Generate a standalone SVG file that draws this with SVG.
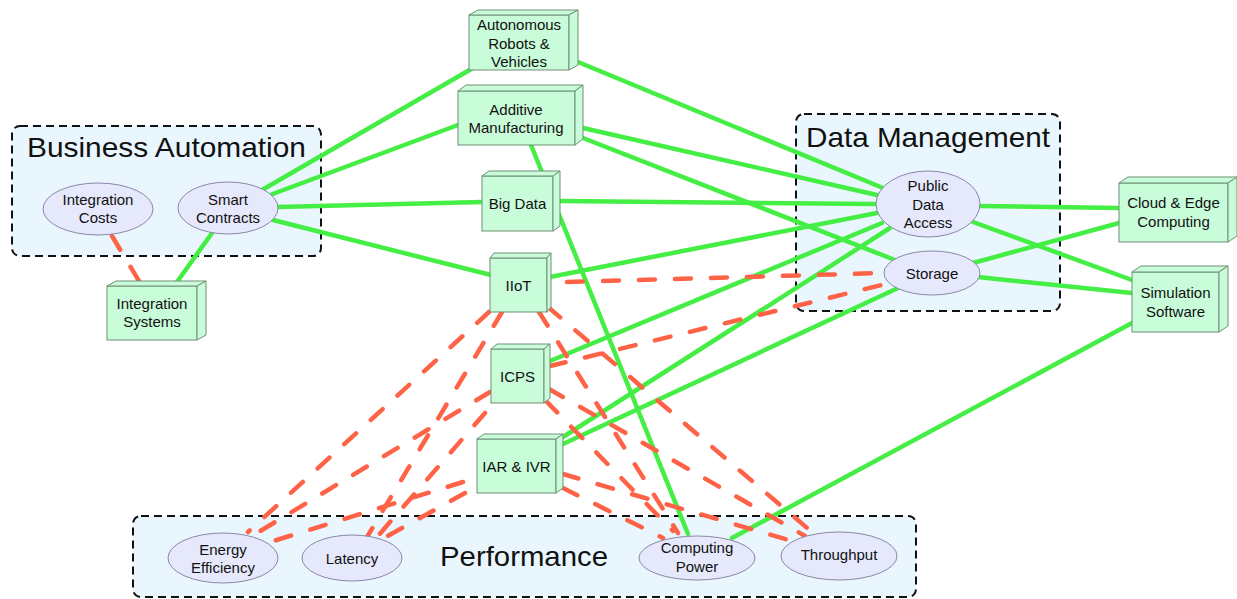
<svg xmlns="http://www.w3.org/2000/svg" width="1237" height="599" viewBox="0 0 1237 599">
<style>
.cl{fill:#eaf6fd;stroke:#111;stroke-width:2;stroke-dasharray:8 5}
.clt{font-family:"Liberation Sans",Arial,sans-serif;font-size:28px;fill:#111;text-anchor:middle}
.t{font-family:"Liberation Sans",Arial,sans-serif;font-size:15px;fill:#111;text-anchor:middle}
.bx{fill:#c9fcd9;stroke:#6f8f76;stroke-width:1}
.el{fill:#e6e8fb;stroke:#8a87a8;stroke-width:1}
.g{stroke:#44ee44;stroke-width:4.5;fill:none;stroke-linecap:round}
.r{stroke:#ff6347;stroke-width:4.5;fill:none;stroke-dasharray:16 20;stroke-linecap:round}
</style>
<rect width="1237" height="599" fill="#fff"/>
<g id="clusters">
<g id="cluster-business">
<rect class="cl" x="12" y="126" width="309" height="130" rx="8"/>
<text class="clt" x="166.5" y="157" textLength="279" lengthAdjust="spacingAndGlyphs">Business Automation</text>
</g>
<g id="cluster-data">
<rect class="cl" x="796" y="114" width="264" height="197" rx="8"/>
<text class="clt" x="928" y="147" textLength="244" lengthAdjust="spacingAndGlyphs">Data Management</text>
</g>
<g id="cluster-performance">
<rect class="cl" x="133" y="516" width="783" height="81" rx="8"/>
<text class="clt" x="524" y="566" textLength="168" lengthAdjust="spacingAndGlyphs">Performance</text>
</g>
</g>
<g id="connectors">
<line class="g" x1="262" y1="190" x2="473" y2="68"/>
<line class="g" x1="270" y1="195" x2="458" y2="125"/>
<line class="g" x1="278" y1="207" x2="482" y2="202"/>
<line class="g" x1="273" y1="220" x2="491" y2="275"/>
<line class="g" x1="212" y1="233" x2="177" y2="282"/>
<line class="g" x1="578" y1="62" x2="883" y2="188"/>
<line class="g" x1="583" y1="128" x2="877" y2="195"/>
<line class="g" x1="560" y1="201" x2="875" y2="204"/>
<line class="g" x1="550" y1="277" x2="877" y2="213"/>
<line class="g" x1="550" y1="361" x2="882" y2="223"/>
<line class="g" x1="563" y1="437" x2="890" y2="228"/>
<line class="g" x1="563" y1="444" x2="898" y2="288"/>
<line class="g" x1="583" y1="138" x2="895" y2="260"/>
<line class="g" x1="531" y1="145" x2="688" y2="534"/>
<line class="g" x1="980" y1="206" x2="1119" y2="208"/>
<line class="g" x1="973" y1="222" x2="1132" y2="280"/>
<line class="g" x1="973" y1="263" x2="1119" y2="223"/>
<line class="g" x1="978" y1="277" x2="1132" y2="293"/>
<line class="g" x1="1132" y1="323" x2="732" y2="538"/>
<line class="r" x1="112" y1="236" x2="139" y2="281"/>
<line class="r" x1="567" y1="282" x2="884" y2="273"/>
<line class="r" x1="550" y1="366" x2="890" y2="283"/>
<line class="r" x1="489" y1="312" x2="248" y2="532"/>
<line class="r" x1="502" y1="312" x2="367" y2="537"/>
<line class="r" x1="490" y1="392" x2="252" y2="536"/>
<line class="r" x1="485" y1="413" x2="377" y2="537"/>
<line class="r" x1="463" y1="482" x2="267" y2="543"/>
<line class="r" x1="465" y1="493" x2="384" y2="538"/>
<line class="r" x1="539" y1="312" x2="678" y2="533"/>
<line class="r" x1="548" y1="307" x2="813" y2="533"/>
<line class="r" x1="549" y1="389" x2="805" y2="536"/>
<line class="r" x1="546" y1="401" x2="673" y2="531"/>
<line class="r" x1="563" y1="474" x2="792" y2="541"/>
<line class="r" x1="563" y1="488" x2="663" y2="538"/>
</g>
<g id="node-autonomous">
<rect class="bx" x="469" y="15" width="100" height="55"/>
<path class="bx" d="M469,15 L478,10 L578,10 L569,15 Z"/>
<path class="bx" d="M569,15 L578,10 L578,65 L569,70 Z"/>
<text class="t" x="519" y="30">Autonomous</text>
<text class="t" x="519" y="48.5">Robots &amp;</text>
<text class="t" x="519" y="67">Vehicles</text>
</g>
<g id="node-additive">
<rect class="bx" x="458" y="91" width="117" height="54"/>
<path class="bx" d="M458,91 L466,85 L583,85 L575,91 Z"/>
<path class="bx" d="M575,91 L583,85 L583,139 L575,145 Z"/>
<text class="t" x="516" y="115">Additive</text>
<text class="t" x="516" y="133">Manufacturing</text>
</g>
<g id="node-bigdata">
<rect class="bx" x="482" y="176" width="71" height="55"/>
<path class="bx" d="M482,176 L489,171 L560,171 L553,176 Z"/>
<path class="bx" d="M553,176 L560,171 L560,226 L553,231 Z"/>
<text class="t" x="517.5" y="209">Big Data</text>
</g>
<g id="node-iiot">
<rect class="bx" x="490" y="258" width="57" height="54"/>
<path class="bx" d="M490,258 L494,253 L551,253 L547,258 Z"/>
<path class="bx" d="M547,258 L551,253 L551,307 L547,312 Z"/>
<text class="t" x="518.5" y="291">IIoT</text>
</g>
<g id="node-icps">
<rect class="bx" x="491" y="349" width="53" height="54"/>
<path class="bx" d="M491,349 L497,344 L550,344 L544,349 Z"/>
<path class="bx" d="M544,349 L550,344 L550,398 L544,403 Z"/>
<text class="t" x="517.5" y="382">ICPS</text>
</g>
<g id="node-iar">
<rect class="bx" x="477" y="439" width="79" height="54"/>
<path class="bx" d="M477,439 L484,434 L563,434 L556,439 Z"/>
<path class="bx" d="M556,439 L563,434 L563,488 L556,493 Z"/>
<text class="t" x="516.5" y="472">IAR &amp; IVR</text>
</g>
<g id="node-intsys">
<rect class="bx" x="107" y="286" width="90" height="54"/>
<path class="bx" d="M107,286 L116,281 L206,281 L197,286 Z"/>
<path class="bx" d="M197,286 L206,281 L206,335 L197,340 Z"/>
<text class="t" x="152" y="309">Integration</text>
<text class="t" x="152" y="327">Systems</text>
</g>
<g id="node-cloud">
<rect class="bx" x="1119" y="183" width="109" height="59"/>
<path class="bx" d="M1119,183 L1128,177 L1237,177 L1228,183 Z"/>
<path class="bx" d="M1228,183 L1237,177 L1237,236 L1228,242 Z"/>
<text class="t" x="1173.5" y="208">Cloud &amp; Edge</text>
<text class="t" x="1173.5" y="227">Computing</text>
</g>
<g id="node-simulation">
<rect class="bx" x="1132" y="272" width="87" height="60"/>
<path class="bx" d="M1132,272 L1141,266 L1228,266 L1219,272 Z"/>
<path class="bx" d="M1219,272 L1228,266 L1228,326 L1219,332 Z"/>
<text class="t" x="1175.5" y="298">Simulation</text>
<text class="t" x="1175.5" y="317">Software</text>
</g>
<g id="node-intcosts">
<ellipse class="el" cx="98" cy="209" rx="55" ry="26"/>
<text class="t" x="98" y="205">Integration</text>
<text class="t" x="98" y="223">Costs</text>
</g>
<g id="node-smart">
<ellipse class="el" cx="228" cy="208" rx="50" ry="26"/>
<text class="t" x="228" y="205">Smart</text>
<text class="t" x="228" y="223">Contracts</text>
</g>
<g id="node-pda">
<ellipse class="el" cx="928" cy="204" rx="52" ry="33"/>
<text class="t" x="928" y="191">Public</text>
<text class="t" x="928" y="210">Data</text>
<text class="t" x="928" y="228">Access</text>
</g>
<g id="node-storage">
<ellipse class="el" cx="932" cy="273" rx="48" ry="22"/>
<text class="t" x="932" y="279">Storage</text>
</g>
<g id="node-energy">
<ellipse class="el" cx="223" cy="558" rx="55" ry="25"/>
<text class="t" x="223" y="555">Energy</text>
<text class="t" x="223" y="573">Efficiency</text>
</g>
<g id="node-latency">
<ellipse class="el" cx="352" cy="558" rx="50" ry="23"/>
<text class="t" x="352" y="564">Latency</text>
</g>
<g id="node-computing">
<ellipse class="el" cx="697" cy="558" rx="58" ry="22"/>
<text class="t" x="697" y="553">Computing</text>
<text class="t" x="697" y="572">Power</text>
</g>
<g id="node-throughput">
<ellipse class="el" cx="839" cy="556" rx="58" ry="24"/>
<text class="t" x="839" y="560">Throughput</text>
</g>
</svg>
